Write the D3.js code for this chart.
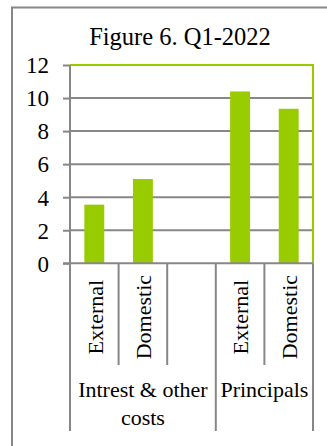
<!DOCTYPE html>
<html>
<head>
<meta charset="utf-8">
<script src="https://cdn.jsdelivr.net/npm/d3@7"></script>
<style>
  html, body { margin: 0; padding: 0; background: #fff; }
  svg { display: block; font-family: "Liberation Serif", "Times New Roman", serif; }
</style>
</head>
<body>
<svg id="chart" width="327" height="446"></svg>
<script>
// Figure 6 data: Q1-2022 payments by type
const title = "Figure 6. Q1-2022";
const categories = ["External", "Domestic", "", "External", "Domestic"];
const values = [3.55, 5.1, null, 10.4, 9.35];
const groups = [
  { lines: ["Intrest & other", "costs"], from: 0, to: 2 },
  { lines: ["Principals"], from: 3, to: 4 }
];
const yTicks = [0, 2, 4, 6, 8, 10, 12];

const gray = "#878787";
const green = "#99cc00";

const svg = d3.select("#chart");

// outer frame (only top and left edges fall inside the view)
svg.append("rect")
  .attr("x", 12).attr("y", 7.5)
  .attr("width", 400).attr("height", 500)
  .attr("fill", "none").attr("stroke", gray).attr("stroke-width", 2);

const plot = { left: 70, right: 313, top: 65, bottom: 263.3 };
const catRowBottom = 365;
const groupRowBottom = 431;

const x = d3.scaleBand()
  .domain(d3.range(categories.length))
  .range([plot.left, plot.right])
  .paddingInner(0.59)
  .paddingOuter(0.295);
const step = x.step();
const slotLeft = i => plot.left + i * step;

const y = d3.scaleLinear().domain([0, 12]).range([plot.bottom, plot.top]);

// title
svg.append("text")
  .attr("x", 180).attr("y", 45)
  .attr("text-anchor", "middle")
  .attr("font-size", 24.5)
  .text(title);

// horizontal gridlines
svg.append("g").selectAll("line")
  .data(yTicks.filter(t => t > 0 && t < 12))
  .join("line")
  .attr("x1", plot.left).attr("x2", plot.right)
  .attr("y1", d => y(d)).attr("y2", d => y(d))
  .attr("stroke", gray).attr("stroke-width", 2);

// plot border: green top and right
svg.append("path")
  .attr("d", `M${plot.left},${y(12)}H${plot.right}V${y(0)}`)
  .attr("fill", "none").attr("stroke", green).attr("stroke-width", 2);

// bars
svg.append("g").selectAll("rect")
  .data(values.map((v, i) => ({ v, i })).filter(d => d.v != null))
  .join("rect")
  .attr("x", d => x(d.i))
  .attr("width", x.bandwidth())
  .attr("y", d => y(d.v))
  .attr("height", d => y(0) - y(d.v))
  .attr("fill", green);

// y axis: tick marks from d3.axisLeft, labels drawn in the serif face
const yAxis = d3.axisLeft(y).tickValues(yTicks).tickSize(7).tickFormat("");
const gy = svg.append("g")
  .attr("transform", `translate(${plot.left},0)`)
  .call(yAxis);
gy.select(".domain").remove();
gy.selectAll(".tick text").remove();
gy.selectAll(".tick line").attr("stroke", gray).attr("stroke-width", 2);
gy.selectAll(".tick")
  .append("text")
  .attr("x", -21)
  .attr("dy", "0.34em")
  .attr("text-anchor", "end")
  .attr("font-family", '"Liberation Serif", "Times New Roman", serif')
  .attr("font-size", 23)
  .attr("fill", "#000")
  .text(d => d);

// vertical axis line down through both label rows
svg.append("line")
  .attr("x1", plot.left).attr("x2", plot.left)
  .attr("y1", plot.top).attr("y2", groupRowBottom)
  .attr("stroke", gray).attr("stroke-width", 2);

// zero baseline
svg.append("line")
  .attr("x1", plot.left - 7).attr("x2", plot.right)
  .attr("y1", y(0)).attr("y2", y(0))
  .attr("stroke", gray).attr("stroke-width", 2);

// category dividers
const groupEdges = new Set();
groups.forEach(g => { groupEdges.add(g.from); groupEdges.add(g.to + 1); });
svg.append("g").selectAll("line")
  .data(d3.range(1, categories.length + 1))
  .join("line")
  .attr("x1", d => slotLeft(d)).attr("x2", d => slotLeft(d))
  .attr("y1", y(0))
  .attr("y2", d => groupEdges.has(d) ? groupRowBottom : catRowBottom)
  .attr("stroke", gray).attr("stroke-width", 2);

// rotated category labels
svg.append("g").selectAll("text")
  .data(categories.map((c, i) => ({ c, i })).filter(d => d.c))
  .join("text")
  .attr("transform", d => `translate(${x(d.i) + x.bandwidth() / 2 + 1},${(y(0) + catRowBottom) / 2 + 3}) rotate(-90)`)
  .attr("text-anchor", "middle")
  .attr("dy", "0.33em")
  .attr("font-size", 22)
  .text(d => d.c);

// group labels
const gl = svg.append("g").selectAll("text")
  .data(groups)
  .join("text")
  .attr("text-anchor", "middle")
  .attr("font-size", 22)
  .attr("x", d => (slotLeft(d.from) + slotLeft(d.to + 1)) / 2)
  .attr("y", 396.5);
gl.selectAll("tspan")
  .data(d => d.lines.map((t, k) => ({ t, k, cx: (slotLeft(d.from) + slotLeft(d.to + 1)) / 2 })))
  .join("tspan")
  .attr("x", d => d.cx)
  .attr("dy", d => d.k === 0 ? 0 : 28)
  .text(d => d.t);
</script>
</body>
</html>
